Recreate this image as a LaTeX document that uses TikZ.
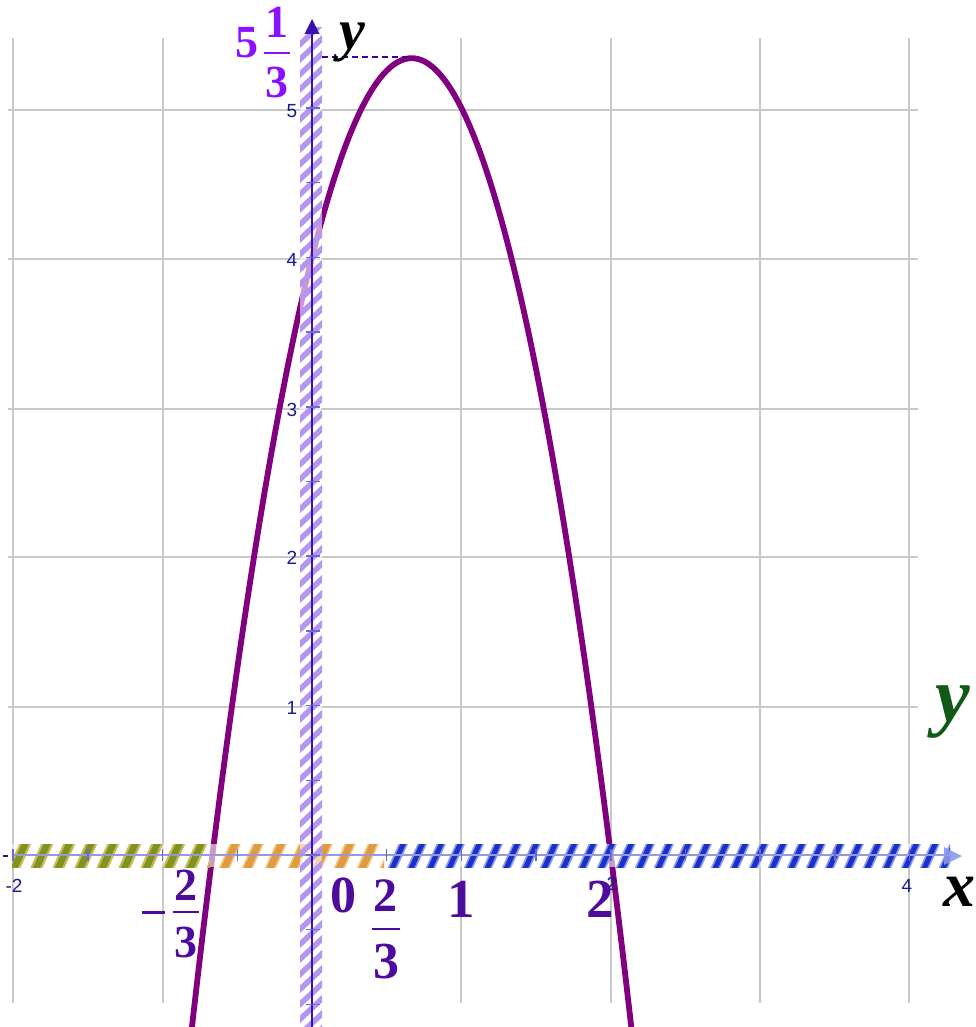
\documentclass[tikz,border=0pt]{standalone}
\usepackage{fontspec}
\setmainfont{Liberation Serif}
\newfontfamily\tlfont{Liberation Sans}
\definecolor{curvec}{HTML}{800080}
\definecolor{gridc}{HTML}{C8C8C8}
\definecolor{numc}{HTML}{4E0C9E}
\definecolor{vertc}{HTML}{8A10FF}
\definecolor{ticklab}{HTML}{1A1A8C}
\definecolor{yaxisc}{HTML}{3A12B0}
\definecolor{xaxisc}{HTML}{9898DC}
\definecolor{tickc}{HTML}{6A6AD0}
\definecolor{ystripe}{HTML}{B496F0}
\definecolor{olivec}{HTML}{7F9420}
\definecolor{oliveedge}{HTML}{CCBA58}
\definecolor{orangec}{HTML}{E09A40}
\definecolor{orangeedge}{HTML}{F2C27A}
\definecolor{bluec}{HTML}{1A32C8}
\definecolor{blueedge}{HTML}{8A98EC}
\definecolor{greeny}{HTML}{0F5A14}
\definecolor{dashc}{HTML}{400090}
\newcommand{\fsz}[1]{\fontsize{#1}{#1}\selectfont}
\tikzset{
  gridline/.style={gridc, line width=2pt},
  ticklabel/.style={inner sep=0pt, text=ticklab, font=\tlfont\fsz{19}},
  bignum/.style={inner sep=0pt, anchor=base, text=numc, font=\bfseries\fsz{#1}},
  vertnum/.style={inner sep=0pt, anchor=base, text=vertc, font=\bfseries\fsz{46}},
  varlabel/.style={inner sep=0pt, anchor=base, font=\bfseries\itshape\fsz{#1}},
  fracbar/.style={line width=2.8pt},
}
\begin{document}
\begin{tikzpicture}[x=1pt,y=-1pt]
\useasboundingbox (0,0) rectangle (976,1027);
\clip (0,0) rectangle (976,1027);
% grid
\foreach \gx in {13,163,461,611,760,909} \draw[gridline] (\gx,38) -- (\gx,1003);
\foreach \gy in {110,259,409,557,707} \draw[gridline] (8,\gy) -- (918,\gy);
% curve
\draw[curvec, line width=5.8pt, line join=round]
  plot[domain=-0.84:2.16, samples=160, smooth] ({312+149.4*\x},{855-149.4*(-3*\x*\x+4*\x+4)});
% x band: green
\begin{scope}
  \clip (12,844) rectangle (210,867);
  \fill[white, opacity=.6] (12,844) rectangle (210,867);
  \foreach \s in {20,42,...,240} {
    \draw[oliveedge, line width=11pt] (\s-7,871) -- (\s+7,840);
    \draw[olivec, line width=6.5pt] (\s-7,871) -- (\s+7,840);
  }
\end{scope}
% orange
\begin{scope}
  \clip (210,844) rectangle (384,867);
  \fill[white, opacity=.6] (210,844) rectangle (384,867);
  \foreach \s in {230,253,...,400} {
    \draw[orangeedge, line width=10pt] (\s-7,871) -- (\s+7,840);
    \draw[orangec, line width=6.5pt] (\s-7,871) -- (\s+7,840);
  }
\end{scope}
% blue
\begin{scope}
  \clip (387,844) rectangle (950,867);
  \fill[white, opacity=.6] (387,844) rectangle (950,867);
  \foreach \s in {398,417,...,960} {
    \draw[blueedge, line width=8.5pt] (\s-7,871) -- (\s+7,840);
    \draw[bluec, line width=5pt] (\s-7,871) -- (\s+7,840);
  }
\end{scope}
\fill[blueedge, opacity=.9] (944,847) -- (962,856) -- (944,865) -- cycle;
% y band
\begin{scope}
  \clip (300,28) rectangle (322,1027);
  \fill[white, opacity=.6] (300,28) rectangle (322,1027);
  \foreach \s in {34,49,...,1045} {
    \draw[ystripe, line width=5.5pt] (296,\s+14) -- (326,\s-14);
  }
\end{scope}
% axes
\draw[xaxisc, line width=1.8pt] (12,855) -- (950,855);
\draw[ticklab, line width=1.8pt] (3,856) -- (8,856);
\foreach \k in {-4,...,8} \draw[tickc, line width=1.5pt] ({312+74.7*\k},849) -- ({312+74.7*\k},861);
\draw[yaxisc, line width=1.8pt] (312,1027) -- (312,32);
\fill[yaxisc] (312,19) -- (319.5,34) -- (304.5,34) -- cycle;
\foreach \k in {-2,...,10} \draw[tickc, line width=1.5pt] (306,{855-74.7*\k}) -- (320,{855-74.7*\k});
% dashed vertex line
\draw[dashc, line width=1.5pt, dash pattern=on 6pt off 4pt] (322,57) -- (412,57);
% tick labels
\node[ticklabel] (t5) at (292,111) {5};
\node[ticklabel] (t4) at (292,260) {4};
\node[ticklabel] (t3) at (292,410) {3};
\node[ticklabel] (t2) at (292,558) {2};
\node[ticklabel] (t1) at (292,708) {1};
\node[ticklabel] (tm2) at (14,886) {-2};
\node[ticklabel] (tx4) at (907,886) {4};
\node[ticklabel] (tx2) at (612,884) {2};
% big labels
\node[bignum=52] (n0) at (343,912) {0};
\node[bignum=55] (n1) at (461,917) {1};
\node[bignum=55] (n2) at (600,917) {2};
% -2/3
\draw[numc, line width=3pt] (142,912) -- (165,912);
\node[bignum=46] (a2) at (186,900) {2};
\draw[numc, fracbar] (173,912) -- (199,912);
\node[bignum=46] (a3) at (186,957) {3};
% 2/3
\node[bignum=48] (b2) at (385,911) {2};
\draw[numc, fracbar] (372,929) -- (400,929);
\node[bignum=52] (b3) at (386,978) {3};
% 5 1/3
\node[vertnum] (v5) at (247,58) {5};
\node[vertnum] (v1) at (277,38) {1};
\draw[vertc, fracbar] (264,53) -- (290,53);
\node[vertnum] (v3) at (277,98) {3};
% variable labels
\node[varlabel=58] (ylab) at (352,50) {y};
\node[varlabel=64, text=black] (xlab) at (959,906) {x};
\node[varlabel=78, text=greeny] (ygreen) at (953,721) {y};
\end{tikzpicture}
\end{document}
